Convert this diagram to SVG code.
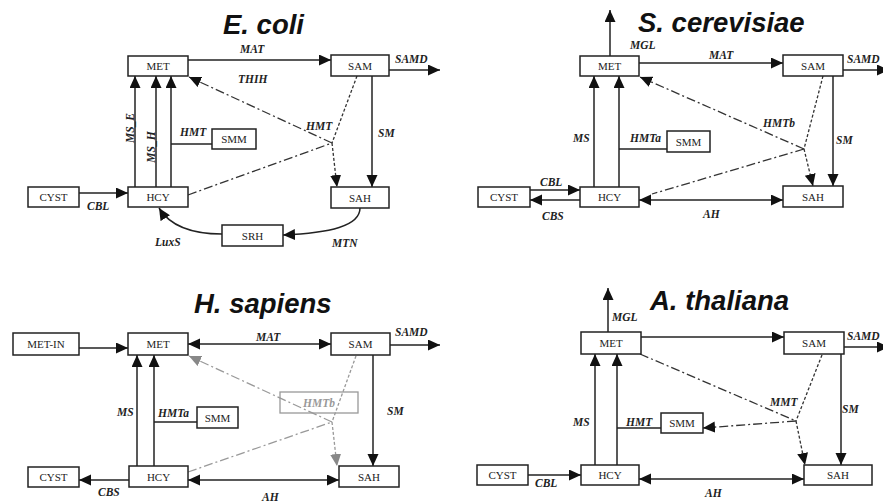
<svg xmlns="http://www.w3.org/2000/svg" width="883" height="502" viewBox="0 0 883 502">
<style>
.box{fill:#fff;stroke:#222;stroke-width:1.5}
.gbox{fill:none;stroke:#999;stroke-width:1.3}
.nt{font-family:"Liberation Serif","Times New Roman",serif;font-size:11px;fill:#222;text-anchor:middle}
.lb{font-family:"Liberation Serif","Times New Roman",serif;font-size:11.5px;font-weight:bold;font-style:italic;fill:#222}
.gl{font-family:"Liberation Serif","Times New Roman",serif;font-size:11.5px;font-weight:bold;font-style:italic;fill:#999;text-anchor:middle}
.tt{font-family:"Liberation Sans",Arial,sans-serif;font-size:27.5px;font-weight:bold;font-style:italic;fill:#111}
.s{fill:none;stroke:#222;stroke-width:1.5}
.dd{fill:none;stroke:#333;stroke-width:1.3;stroke-dasharray:9,3,2,3}
.da{fill:none;stroke:#333;stroke-width:1.3;stroke-dasharray:3,2}
.gdd{fill:none;stroke:#999;stroke-width:1.3;stroke-dasharray:9,3,2,3}
.gda{fill:none;stroke:#999;stroke-width:1.3;stroke-dasharray:3,2}
.a{marker-end:url(#ah)}
.b{marker-start:url(#ah);marker-end:url(#ah)}
.ga{marker-end:url(#gah)}
</style>
<defs>
<marker id="ah" markerUnits="userSpaceOnUse" markerWidth="13" markerHeight="12" refX="12" refY="5.5" orient="auto-start-reverse"><path d="M0,0 L12,5.5 L0,11 z" fill="#111"/></marker>
<marker id="gah" markerUnits="userSpaceOnUse" markerWidth="13" markerHeight="12" refX="12" refY="5.5" orient="auto-start-reverse"><path d="M0,0 L12,5.5 L0,11 z" fill="#888"/></marker>
</defs>
<rect width="883" height="502" fill="#fff"/>

<!-- titles -->
<text class="tt" x="223" y="34">E. coli</text>
<text class="tt" x="638" y="32">S. cerevisiae</text>
<text class="tt" x="194" y="313">H. sapiens</text>
<text class="tt" x="650" y="310">A. thaliana</text>

<g id="connectors">
<!-- E. coli -->
<line class="s a" x1="188" y1="60" x2="331" y2="60"/>
<line class="s a" x1="389" y1="70" x2="440" y2="70"/>
<line class="s a" x1="135" y1="187" x2="135" y2="76"/>
<line class="s a" x1="156" y1="187" x2="156" y2="76"/>
<line class="s a" x1="171" y1="187" x2="171" y2="76"/>
<line class="s" x1="171" y1="144" x2="212" y2="144"/>
<line class="s a" x1="79" y1="193" x2="128" y2="193"/>
<line class="s a" x1="372" y1="76" x2="372" y2="187"/>
<polyline class="da" points="357,76 332,143"/>
<line class="da a" x1="332" y1="143" x2="337" y2="187"/>
<line class="dd a" x1="332" y1="143" x2="189" y2="77"/>
<line class="dd" x1="188" y1="195" x2="332" y2="143"/>
<path class="s a" d="M360,208 C360,226 330,233 283,235"/>
<path class="s a" d="M222,234 C192,234 170,226 159,208"/>
<!-- S. cerevisiae -->
<line class="s a" x1="610" y1="56" x2="610" y2="10"/>
<line class="s a" x1="639" y1="63" x2="783" y2="63"/>
<line class="s a" x1="843" y1="70" x2="889" y2="70"/>
<line class="s a" x1="594" y1="187" x2="594" y2="76"/>
<line class="s a" x1="619" y1="187" x2="619" y2="76"/>
<line class="s" x1="619" y1="149" x2="667" y2="149"/>
<line class="s a" x1="530" y1="190" x2="580" y2="190"/>
<line class="s a" x1="580" y1="200" x2="530" y2="200"/>
<line class="s b" x1="639" y1="200" x2="783" y2="200"/>
<line class="s a" x1="833" y1="76" x2="833" y2="186"/>
<line class="da" x1="823" y1="76" x2="804" y2="149"/>
<line class="da a" x1="804" y1="149" x2="813" y2="186"/>
<line class="dd a" x1="804" y1="149" x2="640" y2="77"/>
<line class="dd" x1="804" y1="149" x2="652" y2="194"/>
<!-- H. sapiens -->
<line class="s a" x1="79" y1="348" x2="128" y2="348"/>
<line class="s b" x1="188" y1="344" x2="331" y2="344"/>
<line class="s a" x1="390" y1="345" x2="440" y2="345"/>
<line class="s a" x1="137" y1="466" x2="137" y2="355"/>
<line class="s a" x1="154" y1="466" x2="154" y2="355"/>
<line class="s" x1="154" y1="422" x2="197" y2="422"/>
<line class="s a" x1="129" y1="480" x2="79" y2="480"/>
<line class="s b" x1="188" y1="480" x2="339" y2="480"/>
<line class="s a" x1="373" y1="355" x2="373" y2="466"/>
<line class="gda" x1="356" y1="356" x2="332" y2="422"/>
<line class="gda ga" x1="332" y1="422" x2="337" y2="466"/>
<line class="gdd ga" x1="332" y1="422" x2="189" y2="356"/>
<line class="gdd" x1="188" y1="472" x2="332" y2="422"/>
<!-- A. thaliana -->
<line class="s a" x1="608" y1="332" x2="608" y2="288"/>
<line class="s a" x1="641" y1="337" x2="784" y2="337"/>
<line class="s a" x1="844" y1="347" x2="889" y2="347"/>
<line class="s a" x1="595" y1="465" x2="595" y2="354"/>
<line class="s a" x1="617" y1="465" x2="617" y2="354"/>
<line class="s" x1="617" y1="428" x2="661" y2="428"/>
<line class="s a" x1="528" y1="475" x2="581" y2="475"/>
<line class="s b" x1="639" y1="479" x2="804" y2="479"/>
<line class="s a" x1="841" y1="354" x2="841" y2="465"/>
<line class="da" x1="822" y1="355" x2="796" y2="421"/>
<line class="da a" x1="796" y1="421" x2="805" y2="465"/>
<line class="dd" x1="640" y1="354" x2="796" y2="421"/>
<line class="dd a" x1="796" y1="421" x2="703" y2="428"/>
</g>

<g id="edge-labels">
<text class="lb" x="240" y="53">MAT</text>
<text class="lb" x="238" y="83">THIH</text>
<text class="lb" x="395" y="63">SAMD</text>
<text class="lb" x="306" y="130">HMT</text>
<text class="lb" x="378" y="137">SM</text>
<text class="lb" x="180" y="136">HMT</text>
<text class="lb" transform="translate(134,128) rotate(-90)" text-anchor="middle">MS_E</text>
<text class="lb" transform="translate(155,147) rotate(-90)" text-anchor="middle">MS_H</text>
<text class="lb" x="87" y="210">CBL</text>
<text class="lb" x="155" y="246">LuxS</text>
<text class="lb" x="332" y="247">MTN</text>

<text class="lb" x="630" y="49">MGL</text>
<text class="lb" x="709" y="59">MAT</text>
<text class="lb" x="847" y="63">SAMD</text>
<text class="lb" x="573" y="142">MS</text>
<text class="lb" x="630" y="142">HMTa</text>
<text class="lb" x="540" y="186">CBL</text>
<text class="lb" x="542" y="220">CBS</text>
<text class="lb" x="703" y="218">AH</text>
<text class="lb" x="836" y="144">SM</text>
<text class="lb" x="763" y="127">HMTb</text>

<text class="lb" x="256" y="341">MAT</text>
<text class="lb" x="395" y="336">SAMD</text>
<text class="lb" x="117" y="416">MS</text>
<text class="lb" x="158" y="417">HMTa</text>
<text class="lb" x="98" y="496">CBS</text>
<text class="lb" x="262" y="501">AH</text>
<text class="lb" x="387" y="415">SM</text>

<text class="lb" x="612" y="321">MGL</text>
<text class="lb" x="847" y="340">SAMD</text>
<text class="lb" x="573" y="426">MS</text>
<text class="lb" x="626" y="426">HMT</text>
<text class="lb" x="535" y="487">CBL</text>
<text class="lb" x="705" y="497">AH</text>
<text class="lb" x="842" y="413">SM</text>
<text class="lb" x="770" y="406">MMT</text>
</g>

<!-- E. coli nodes -->
<g id="ec-met"><rect class="box" x="128" y="56" width="60" height="20"/><text class="nt" x="158" y="70">MET</text></g>
<g id="ec-sam"><rect class="box" x="331" y="55" width="58" height="21"/><text class="nt" x="360" y="69.5">SAM</text></g>
<g id="ec-hcy"><rect class="box" x="128" y="187" width="60" height="20"/><text class="nt" x="158" y="201">HCY</text></g>
<g id="ec-sah"><rect class="box" x="331" y="187" width="58" height="21"/><text class="nt" x="360" y="201.5">SAH</text></g>
<g id="ec-cyst"><rect class="box" x="28" y="187" width="51" height="20"/><text class="nt" x="53.5" y="201">CYST</text></g>
<g id="ec-smm"><rect class="box" x="212" y="129" width="44" height="20"/><text class="nt" x="234" y="143">SMM</text></g>
<g id="ec-srh"><rect class="box" x="222" y="225" width="61" height="21"/><text class="nt" x="252.5" y="239.5">SRH</text></g>

<!-- S. cerevisiae nodes -->
<g id="sc-met"><rect class="box" x="580" y="56" width="59" height="20"/><text class="nt" x="609.5" y="70">MET</text></g>
<g id="sc-sam"><rect class="box" x="783" y="55" width="60" height="21"/><text class="nt" x="813" y="69.5">SAM</text></g>
<g id="sc-hcy"><rect class="box" x="580" y="187" width="59" height="20"/><text class="nt" x="609.5" y="201">HCY</text></g>
<g id="sc-sah"><rect class="box" x="783" y="186" width="60" height="21"/><text class="nt" x="813" y="200.5">SAH</text></g>
<g id="sc-cyst"><rect class="box" x="478" y="187" width="52" height="20"/><text class="nt" x="504" y="201">CYST</text></g>
<g id="sc-smm"><rect class="box" x="667" y="131" width="43" height="21"/><text class="nt" x="688.5" y="145.5">SMM</text></g>

<!-- H. sapiens nodes -->
<g id="hs-metin"><rect class="box" x="13" y="333" width="66" height="22"/><text class="nt" x="46" y="348">MET-IN</text></g>
<g id="hs-met"><rect class="box" x="128" y="333" width="60" height="22"/><text class="nt" x="158" y="348">MET</text></g>
<g id="hs-sam"><rect class="box" x="331" y="333" width="59" height="22"/><text class="nt" x="360.5" y="348">SAM</text></g>
<g id="hs-hcy"><rect class="box" x="129" y="466" width="59" height="21"/><text class="nt" x="158.5" y="480.5">HCY</text></g>
<g id="hs-sah"><rect class="box" x="339" y="466" width="60" height="21"/><text class="nt" x="369" y="480.5">SAH</text></g>
<g id="hs-cyst"><rect class="box" x="28" y="467" width="51" height="20"/><text class="nt" x="53.5" y="481">CYST</text></g>
<g id="hs-smm"><rect class="box" x="197" y="407" width="41" height="21"/><text class="nt" x="217.5" y="421.5">SMM</text></g>
<g id="hs-hmtb"><rect class="gbox" x="280" y="392" width="78" height="21"/><text class="gl" x="319" y="406.5">HMTb</text></g>

<!-- A. thaliana nodes -->
<g id="at-met"><rect class="box" x="581" y="332" width="60" height="22"/><text class="nt" x="611" y="347">MET</text></g>
<g id="at-sam"><rect class="box" x="784" y="332" width="60" height="22"/><text class="nt" x="814" y="347">SAM</text></g>
<g id="at-hcy"><rect class="box" x="581" y="465" width="58" height="20"/><text class="nt" x="610" y="479">HCY</text></g>
<g id="at-sah"><rect class="box" x="804" y="465" width="68" height="20"/><text class="nt" x="838" y="479">SAH</text></g>
<g id="at-cyst"><rect class="box" x="477" y="465" width="51" height="20"/><text class="nt" x="502.5" y="479">CYST</text></g>
<g id="at-smm"><rect class="box" x="661" y="413" width="42" height="20"/><text class="nt" x="682" y="427">SMM</text></g>
</svg>
